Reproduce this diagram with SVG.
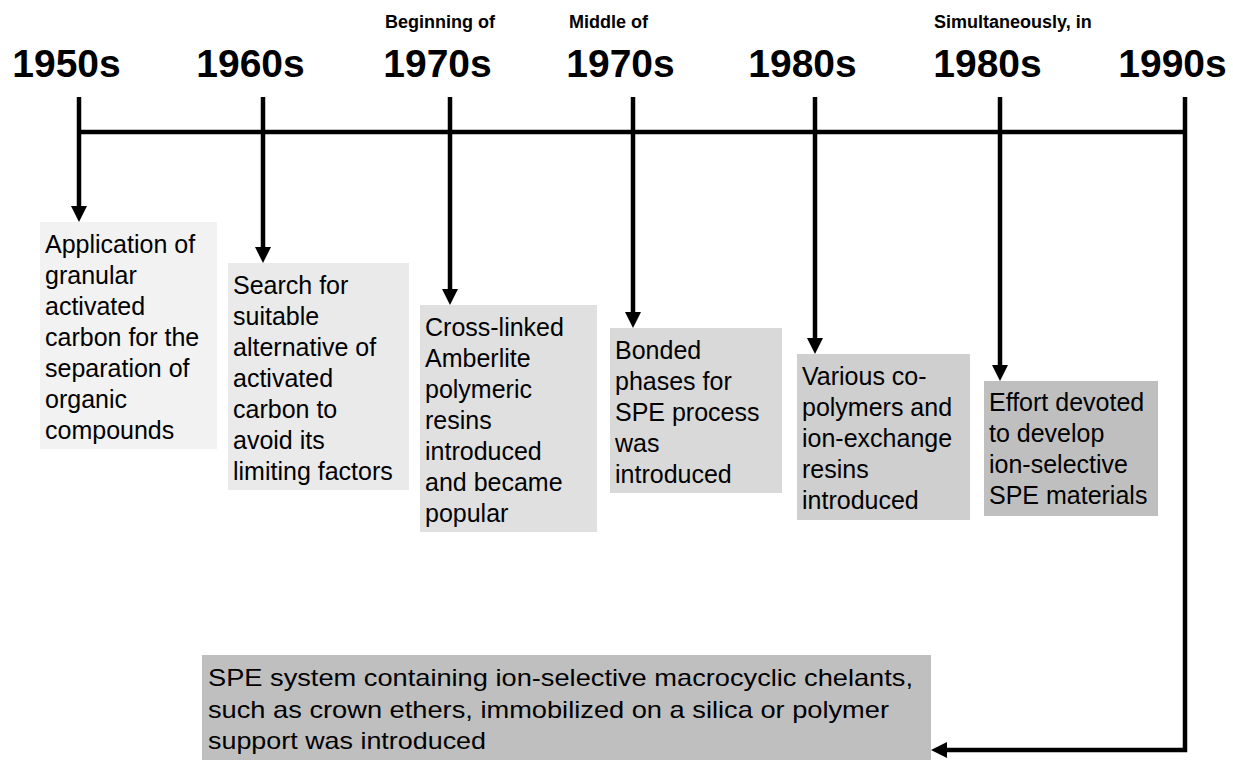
<svg xmlns="http://www.w3.org/2000/svg" width="1233" height="760" viewBox="0 0 1233 760">
<style>
.yr{font-family:"Liberation Sans",Arial,sans-serif;font-weight:bold;font-size:39px;fill:#000;text-anchor:middle}
.sm{font-family:"Liberation Sans",Arial,sans-serif;font-weight:bold;font-size:18px;fill:#000}
.bx{font-family:"Liberation Sans",Arial,sans-serif;font-size:25px;fill:#000}
.bt{font-family:"Liberation Sans",Arial,sans-serif;font-size:24px;fill:#000}
.ln{fill:none;stroke:#000;stroke-width:4.5}
</style>
<defs>
<marker id="ah" viewBox="0 0 16 16" refX="6" refY="8" markerWidth="16" markerHeight="16" markerUnits="userSpaceOnUse" orient="auto">
<path d="M0,0 L16,8 L0,16 Z" fill="#000"/>
</marker>
</defs>
<rect width="1233" height="760" fill="#fff"/>
<g id="labels">
<text class="sm" x="385" y="28">Beginning of</text>
<text class="sm" x="569" y="28">Middle of</text>
<text class="sm" x="934" y="28">Simultaneously, in</text>
<text class="yr" x="66.5" y="77">1950s</text>
<text class="yr" x="250.5" y="77">1960s</text>
<text class="yr" x="437.5" y="77">1970s</text>
<text class="yr" x="620.5" y="77">1970s</text>
<text class="yr" x="802.5" y="77">1980s</text>
<text class="yr" x="987.5" y="77">1980s</text>
<text class="yr" x="1172.5" y="77">1990s</text>
</g>
<g id="node-1950s">
<rect x="40" y="222" width="177" height="227" fill="#f2f2f2"/>
<text class="bx" x="45" y="253"><tspan x="45">Application of</tspan><tspan x="45" dy="31">granular</tspan><tspan x="45" dy="31">activated</tspan><tspan x="45" dy="31">carbon for the</tspan><tspan x="45" dy="31">separation of</tspan><tspan x="45" dy="31">organic</tspan><tspan x="45" dy="31">compounds</tspan></text>
</g>
<g id="node-1960s">
<rect x="228" y="263" width="181" height="227" fill="#eaeaea"/>
<text class="bx" x="233" y="294"><tspan x="233">Search for</tspan><tspan x="233" dy="31">suitable</tspan><tspan x="233" dy="31">alternative of</tspan><tspan x="233" dy="31">activated</tspan><tspan x="233" dy="31">carbon to</tspan><tspan x="233" dy="31">avoid its</tspan><tspan x="233" dy="31">limiting factors</tspan></text>
</g>
<g id="node-early1970s">
<rect x="420" y="305" width="177" height="227" fill="#e0e0e0"/>
<text class="bx" x="425" y="336"><tspan x="425">Cross-linked</tspan><tspan x="425" dy="31">Amberlite</tspan><tspan x="425" dy="31">polymeric</tspan><tspan x="425" dy="31">resins</tspan><tspan x="425" dy="31">introduced</tspan><tspan x="425" dy="31">and became</tspan><tspan x="425" dy="31">popular</tspan></text>
</g>
<g id="node-mid1970s">
<rect x="610" y="328" width="172" height="165" fill="#d9d9d9"/>
<text class="bx" x="615" y="359"><tspan x="615">Bonded</tspan><tspan x="615" dy="31">phases for</tspan><tspan x="615" dy="31">SPE process</tspan><tspan x="615" dy="31">was</tspan><tspan x="615" dy="31">introduced</tspan></text>
</g>
<g id="node-1980s">
<rect x="797" y="354" width="173" height="166" fill="#cfcfcf"/>
<text class="bx" x="802" y="385"><tspan x="802">Various co-</tspan><tspan x="802" dy="31">polymers and</tspan><tspan x="802" dy="31">ion-exchange</tspan><tspan x="802" dy="31">resins</tspan><tspan x="802" dy="31">introduced</tspan></text>
</g>
<g id="node-sim1980s">
<rect x="984" y="381" width="174" height="135" fill="#bfbfbf"/>
<text class="bx" x="989" y="411"><tspan x="989">Effort devoted</tspan><tspan x="989" dy="31">to develop</tspan><tspan x="989" dy="31">ion-selective</tspan><tspan x="989" dy="31">SPE materials</tspan></text>
</g>
<g id="node-1990s">
<rect x="202" y="655" width="729" height="105" fill="#bfbfbf"/>
<text class="bt" x="208" y="686" textLength="705" lengthAdjust="spacingAndGlyphs">SPE system containing ion-selective macrocyclic chelants,</text>
<text class="bt" x="208" y="718" textLength="681" lengthAdjust="spacingAndGlyphs">such as crown ethers, immobilized on a silica or polymer</text>
<text class="bt" x="208" y="749" textLength="278" lengthAdjust="spacingAndGlyphs">support was introduced</text>
</g>
<g id="connectors">
<path class="ln" d="M79,132 H1185"/>
<path class="ln" d="M79,97 V212" marker-end="url(#ah)"/>
<path class="ln" d="M263,97 V253" marker-end="url(#ah)"/>
<path class="ln" d="M450,97 V295" marker-end="url(#ah)"/>
<path class="ln" d="M633,97 V318" marker-end="url(#ah)"/>
<path class="ln" d="M815,97 V344" marker-end="url(#ah)"/>
<path class="ln" d="M1000,97 V371" marker-end="url(#ah)"/>
<path class="ln" d="M1185,97 V750 H941" marker-end="url(#ah)"/>
</g>
</svg>
